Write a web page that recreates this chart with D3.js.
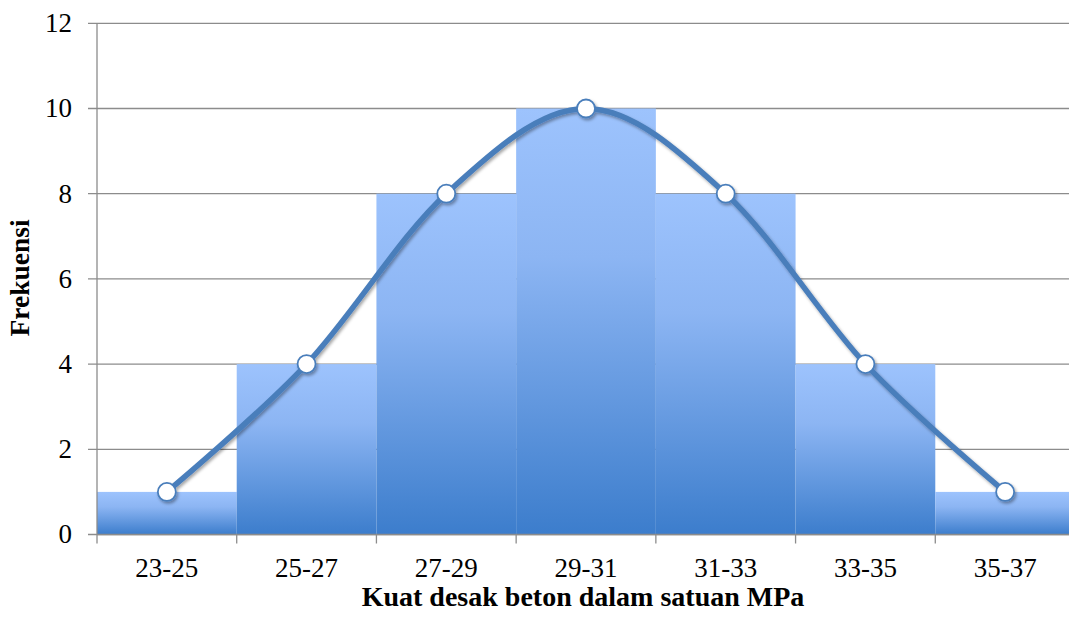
<!DOCTYPE html>
<html><head><meta charset="utf-8">
<script src="https://cdn.jsdelivr.net/npm/d3@7"></script>
<style>body{margin:0;background:#fff}svg{display:block}text{font-family:"Liberation Serif",serif}</style>
</head><body>
<svg id="c" width="1069" height="618"></svg>
<script>
const categories = ["23-25","25-27","27-29","29-31","31-33","33-35","35-37"];
const frequencies = [1,4,8,10,8,4,1];
const yTicks = [0,2,4,6,8,10,12];

const svg = d3.select("#c");
const L = 97, R = 1075, T = 23.3, B = 534.5;
const x = d3.scaleBand().domain(categories).range([L,R]).padding(0);
const y = d3.scaleLinear().domain([0,12]).range([B,T]);

const defs = svg.append("defs");
const g = defs.append("linearGradient").attr("id","bg").attr("x1",0).attr("y1",0).attr("x2",0).attr("y2",1);
g.append("stop").attr("offset","0%").attr("stop-color","#9dc3fd");
g.append("stop").attr("offset","35%").attr("stop-color","#8cb5f3");
g.append("stop").attr("offset","100%").attr("stop-color","#3c7dcc");
const f = defs.append("filter").attr("id","sh").attr("x","-20%").attr("y","-20%").attr("width","150%").attr("height","150%");
f.append("feDropShadow").attr("dx",1.5).attr("dy",2).attr("stdDeviation",1.5).attr("flood-color","#000").attr("flood-opacity",0.35);

// gridlines
svg.append("g").selectAll("line").data(yTicks).join("line")
  .attr("x1",L-9).attr("x2",R).attr("y1",d=>y(d)).attr("y2",d=>y(d))
  .attr("stroke","#8c8c8c").attr("stroke-width",1.3);

// bars
svg.append("g").selectAll("rect").data(frequencies).join("rect")
  .attr("x",(d,i)=>x(categories[i])).attr("width",x.bandwidth())
  .attr("y",d=>y(d)).attr("height",d=>B-y(d))
  .attr("fill","url(#bg)");

// axes lines
svg.append("line").attr("x1",L).attr("x2",L).attr("y1",T).attr("y2",B+9).attr("stroke","#8c8c8c").attr("stroke-width",1.3);
svg.append("line").attr("x1",L).attr("x2",R).attr("y1",B).attr("y2",B).attr("stroke","#8c8c8c").attr("stroke-width",1.3);
svg.append("g").selectAll("line").data(categories.slice(1)).join("line")
  .attr("x1",d=>x(d)).attr("x2",d=>x(d)).attr("y1",B).attr("y2",B+9)
  .attr("stroke","#8c8c8c").attr("stroke-width",1.3);

// y tick labels
svg.append("g").selectAll("text").data(yTicks).join("text")
  .attr("x",72).attr("y",d=>y(d)).attr("dy","0.33em").attr("text-anchor","end")
  .attr("font-size",27).attr("fill","#000").text(d=>d);

// x tick labels
svg.append("g").selectAll("text").data(categories).join("text")
  .attr("x",d=>x(d)+x.bandwidth()/2).attr("y",577).attr("text-anchor","middle")
  .attr("font-size",27).attr("fill","#000").text(d=>d);

// line
const pts = frequencies.map((d,i)=>[x(categories[i])+x.bandwidth()/2, y(d)]);
const gl = svg.append("g").attr("filter","url(#sh)");
gl.append("path").attr("d",d3.line().curve(d3.curveCardinal.tension(0))(pts))
  .attr("fill","none").attr("stroke","#4a7ebb").attr("stroke-width",5.5);
gl.selectAll("circle").data(pts).join("circle")
  .attr("cx",d=>d[0]).attr("cy",d=>d[1]).attr("r",9)
  .attr("fill","#fff").attr("stroke","#4a7ebb").attr("stroke-width",1.8);

// axis titles
svg.append("text").attr("x",583).attr("y",606).attr("text-anchor","middle")
  .attr("font-size",28).attr("font-weight","bold").text("Kuat desak beton dalam satuan MPa");
svg.append("text").attr("transform","translate(29,278) rotate(-90)").attr("text-anchor","middle")
  .attr("font-size",27.5).attr("font-weight","bold").text("Frekuensi");
</script>
</body></html>
